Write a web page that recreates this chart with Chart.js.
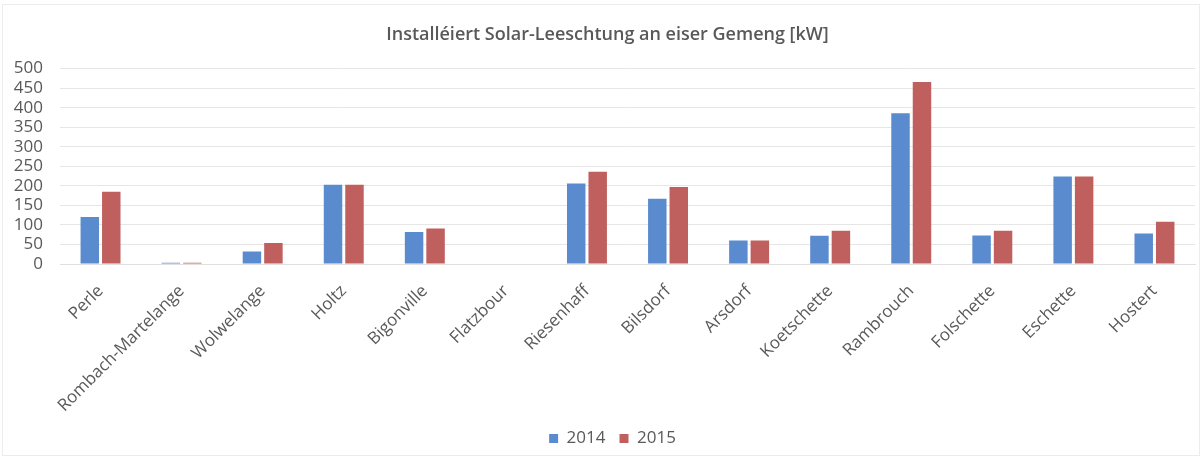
<!DOCTYPE html>
<html>
<head>
<meta charset="utf-8">
<style>
  html, body { margin: 0; padding: 0; background: #ffffff; }
  #wrap { width: 1202px; height: 459px; position: relative; }
</style>
<script src="https://cdn.jsdelivr.net/npm/chart.js@4/dist/chart.umd.min.js"></script>
</head>
<body>
<div id="wrap"><canvas id="c" width="1202" height="459"></canvas></div>
<script>
const categories = ["Perle", "Rombach-Martelange", "Wolwelange", "Holtz", "Bigonville", "Flatzbour", "Riesenhaff", "Bilsdorf", "Arsdorf", "Koetschette", "Rambrouch", "Folschette", "Eschette", "Hostert"];
const values2014 = [120, 3, 32, 203, 82, 0, 206, 167, 60, 72, 386, 73, 224, 78];
const values2015 = [185, 3, 54, 203, 91, 0, 236, 197, 60, 85, 466, 85, 224, 108];
const seriesNames = ["2014", "2015"];
const chartTitle = "Installéiert Solar-Leeschtung an eiser Gemeng [kW]";

const FONT = "'Open Sans', 'Liberation Sans', sans-serif";
const TXT = "#595959";

const framePlugin = {
  id: "frame",
  afterLayout(chart) {
    if (chart.legend) { chart.legend.left += 9; chart.legend.right += 9; }
    if (chart.titleBlock) { chart.titleBlock.left += 4; chart.titleBlock.right += 4; }
  },
  beforeDraw(chart) {
    const ctx = chart.ctx;
    ctx.save();
    ctx.strokeStyle = "#ececec";
    ctx.lineWidth = 1;
    ctx.strokeRect(2.5, 4.5, chart.width - 5, chart.height - 8);
    ctx.restore();
  }
};

new Chart(document.getElementById("c"), {
  type: "bar",
  data: {
    labels: categories,
    datasets: [
      { label: seriesNames[0], data: values2014, backgroundColor: "#5b8bcf", borderWidth: 0,
        categoryPercentage: 0.53, barPercentage: 0.86 },
      { label: seriesNames[1], data: values2015, backgroundColor: "#c0605e", borderWidth: 0,
        categoryPercentage: 0.53, barPercentage: 0.86 }
    ]
  },
  plugins: [framePlugin],
  options: {
    responsive: false,
    animation: false,
    layout: { padding: { left: 12, right: 7, top: 0, bottom: 2 } },
    plugins: {
      title: {
        display: true,
        text: chartTitle,
        color: TXT,
        font: { family: FONT, size: 18, weight: "600" },
        padding: { top: 24, bottom: 23 }
      },
      legend: {
        display: true,
        position: "bottom",
        labels: {
          color: TXT,
          font: { family: FONT, size: 17 },
          boxWidth: 9,
          boxHeight: 9,
          padding: 14
        }
      },
      tooltip: { enabled: false }
    },
    scales: {
      x: {
        grid: { display: false, drawTicks: false },
        border: { display: true, color: "#e0e0e0" },
        afterFit(scale) {
          scale.height = 152;
          scale.paddingLeft = 0;
          scale.paddingRight = 0;
        },
        ticks: {
          color: TXT,
          font: { family: FONT, size: 17 },
          minRotation: 45,
          maxRotation: 45,
          autoSkip: false,
          padding: 17
        }
      },
      y: {
        min: 0,
        max: 500,
        grid: { color: "#e6e6e6", drawTicks: false },
        border: { display: false },
        afterFit(scale) {
          scale.width = 48;
        },
        ticks: {
          stepSize: 50,
          autoSkip: false,
          color: TXT,
          font: { family: FONT, size: 17 },
          padding: 17
        }
      }
    }
  }
});
</script>
</body>
</html>
